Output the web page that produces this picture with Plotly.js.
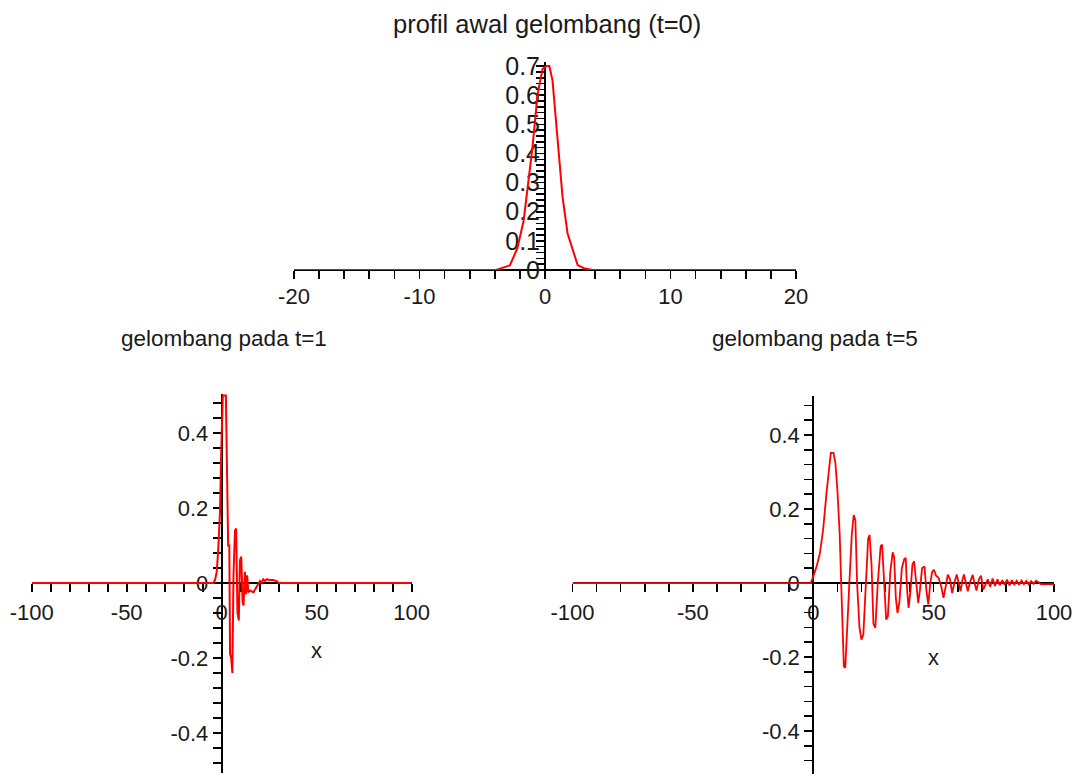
<!DOCTYPE html>
<html>
<head>
<meta charset="utf-8">
<script src="https://cdn.plot.ly/plotly-3.0.1.min.js"></script>
<style>html,body{margin:0;padding:0;background:#fff;}#chart{width:1080px;height:775px;}</style>
</head>
<body>
<div id="chart"></div>
<script>
// ---- data ----
var x0 = [-20, -3.9, -2.8, -2.2, -1.7, -1.0, -0.6, -0.2, 0.1, 0.35, 0.6, 1.0, 1.4, 1.8, 2.2, 2.6, 3.1, 3.8, 20];
var y0 = [0, 0, 0.016, 0.075, 0.17, 0.42, 0.6, 0.69, 0.70, 0.70, 0.65, 0.44, 0.25, 0.125, 0.074, 0.017, 0.006, 0, 0];

var x1 = [-100, -4.4, -3.5, -2.6, -1.8, -0.9, -0.3, 0.2, 0.6, 2.2, 2.6, 3.4, 4.0, 4.4, 5.0, 5.6, 6.2, 7.0, 7.6, 8.3, 9.0, 9.6, 10.3, 11.0, 11.5, 12.2, 12.8, 13.4, 14.0, 15.0, 16.7, 18.4, 19.5, 20.2, 21.0, 21.9, 22.8, 23.7, 25, 27, 29, 29.8, 100];
var y1 = [0, 0, 0.008, 0.03, 0.09, 0.19, 0.34, 0.46, 0.5, 0.5, 0.37, 0.1, 0.1, -0.19, -0.2, -0.24, 0.02, 0.14, 0.145, -0.08, -0.1, 0.06, 0.07, -0.05, -0.06, 0.03, -0.03, 0.02, -0.025, -0.02, -0.025, -0.01, 0.0, 0.005, 0.0, 0.01, 0.005, 0.01, 0.008, 0.008, 0.005, 0, 0];

var x5 = [-100, -1, 0, 1.4, 2.75, 4.1, 5.5, 6.5, 7.3, 8.4, 9.2, 10.1, 11.0, 11.6, 12.2, 12.7, 13.3, 14.0, 15.0, 16.0, 16.8, 17.5, 18.2, 19.2, 20.0, 20.8, 21.8, 22.8, 23.4, 24.2, 25.0, 25.8, 26.8, 28.0, 28.6, 29.4, 30.3, 31.0, 32.0, 33.0, 33.6, 34.3, 35.0, 35.8, 36.8, 37.8, 38.4, 39.0, 39.6, 40.4, 41.2, 41.9, 42.8, 43.6, 44.3, 45.2, 46.2, 47.0, 47.8, 48.6, 49.4, 50.1, 51.0, 52.0, 53.2, 54.1, 55.0, 55.9, 56.8, 57.7, 58.6, 59.6, 60.4, 61.2, 62.0, 62.6, 63.4, 64.2, 65.0, 66.2, 67.0, 67.8, 68.8, 69.7, 70.6, 71.6, 72.5, 73.5, 74.5, 75.5, 76.5, 77.5, 78.5, 79.5, 80.5, 81.5, 82.5, 83.5, 84.5, 85.5, 86.5, 87.5, 88.5, 89.5, 90.5, 91.5, 92.5, 93.5, 94.5, 96, 100];
var y5 = [0, 0, 0.018, 0.045, 0.08, 0.144, 0.243, 0.315, 0.352, 0.352, 0.325, 0.243, 0.13, 0.0, -0.15, -0.225, -0.229, -0.12, 0.0, 0.13, 0.184, 0.17, 0.0, -0.12, -0.153, -0.14, 0.0, 0.12, 0.13, 0.05, -0.11, -0.121, 0.0, 0.1, 0.104, 0.0, -0.099, -0.09, 0.03, 0.083, 0.07, -0.04, -0.081, -0.05, 0.04, 0.065, 0.068, -0.02, -0.067, -0.02, 0.05, 0.059, -0.01, -0.054, -0.02, 0.04, 0.045, -0.02, -0.058, 0.0, 0.03, 0.036, 0.02, 0.015, -0.01, -0.04, -0.01, 0.023, 0.01, -0.027, 0.0, 0.023, 0.0, -0.022, 0.01, 0.023, 0.0, -0.022, 0.0, 0.022, 0.0, -0.02, 0.01, 0.02, -0.018, -0.005, 0.01, -0.01, 0.012, -0.008, 0.01, -0.006, 0.008, -0.005, 0.009, -0.006, 0.008, -0.004, 0.006, -0.005, 0.007, -0.003, 0.006, -0.004, 0.005, -0.002, 0.006, 0.003, -0.003, -0.003, -0.003];

var topXTicks = [-20, -10, 0, 10, 20];
var topXText = ['-20', '-10', '0', '10', '20'];
var topYTicks = [0, 0.1, 0.2, 0.3, 0.4, 0.5, 0.6, 0.7];
var topYText = ['0', '0.1', '0.2', '0.3', '0.4', '0.5', '0.6', '0.7'];
var botXTicks = [-100, -50, 0, 50, 100];
var botXText = ['-100', '-50', '0', '50', '100'];
var botYTicks = [-0.4, -0.2, 0, 0.2, 0.4];
var botYText = ['-0.4', '-0.2', '0', '0.2', '0.4'];

var titles = ['profil awal gelombang (t=0)', 'gelombang pada t=1', 'gelombang pada t=5'];

// ---- layout helpers ----
var W = 1080, H = 775;
function px(v) { return v / W; }
function py(v) { return 1 - v / H; }
var FONT = '"Liberation Sans", Arial, sans-serif';
var TXT = '#1a1a1a';

function xAxis(dom, rng, tv, tt, minorStep, yDom, yRng, standoff) {
  var pos = yDom[0] + (0 - yRng[0]) / (yRng[1] - yRng[0]) * (yDom[1] - yDom[0]);
  return {
    domain: dom, range: rng, anchor: 'free', position: pos,
    showgrid: false, zeroline: false, showline: true, linecolor: '#000', linewidth: 2,
    ticks: 'outside', ticklen: 8, tickwidth: 1.6, tickcolor: '#000',
    tickmode: 'array', tickvals: tv, ticktext: tt,
    minor: { tickmode: 'linear', tick0: 0, dtick: minorStep, ticks: 'outside', ticklen: 8, tickwidth: 1.6, tickcolor: '#000', showgrid: false },
    tickfont: { family: FONT, size: 22, color: TXT },
    ticklabelstandoff: standoff, layer: 'below traces', fixedrange: true
  };
}
function yAxis(dom, rng, tv, tt, minorStep, xDom, xRng, standoff, fsize) {
  var pos = xDom[0] + (0 - xRng[0]) / (xRng[1] - xRng[0]) * (xDom[1] - xDom[0]);
  return {
    domain: dom, range: rng, anchor: 'free', position: pos,
    showgrid: false, zeroline: false, showline: true, linecolor: '#000', linewidth: 2,
    ticks: 'outside', ticklen: 8, tickwidth: 1.6, tickcolor: '#000',
    tickmode: 'array', tickvals: tv, ticktext: tt,
    minor: { tickmode: 'linear', tick0: 0, dtick: minorStep, ticks: 'outside', ticklen: 8, tickwidth: 1.6, tickcolor: '#000', showgrid: false },
    tickfont: { family: FONT, size: fsize, color: TXT },
    ticklabelstandoff: standoff, layer: 'below traces', fixedrange: true
  };
}

var d1x = [px(294), px(796)], d1y = [py(270), py(62)], r1x = [-20, 20], r1y = [0, 0.714];
var d2x = [px(31.7), px(411.7)], d2y = [py(773), py(393.6)], r2x = [-100, 100], r2y = [-0.507, 0.505];
var d3x = [px(572.5), px(1054)], d3y = [py(773.6), py(396.2)], r3x = [-100, 100], r3y = [-0.515, 0.505];

var traces = [
  { x: x0, y: y0, xaxis: 'x', yaxis: 'y', mode: 'lines', line: { color: '#ff0000', width: 2 }, hoverinfo: 'skip' },
  { x: x1, y: y1, xaxis: 'x2', yaxis: 'y2', mode: 'lines', line: { color: '#ff0000', width: 2 }, hoverinfo: 'skip' },
  { x: x5, y: y5, xaxis: 'x3', yaxis: 'y3', mode: 'lines', line: { color: '#ff0000', width: 1.8 }, hoverinfo: 'skip' }
];

var layout = {
  width: W, height: H, margin: { l: 0, r: 0, t: 0, b: 0 },
  paper_bgcolor: '#fff', plot_bgcolor: 'rgba(0,0,0,0)', showlegend: false,
  xaxis: xAxis(d1x, r1x, topXTicks, topXText, 2, d1y, r1y, -1),
  yaxis: yAxis(d1y, r1y, topYTicks, topYText, 0.02, d1x, r1x, -9, 25),
  xaxis2: xAxis(d2x, r2x, botXTicks, botXText, 10, d2y, r2y, 2),
  yaxis2: yAxis(d2y, r2y, botYTicks, botYText, 0.04, d2x, r2x, 0, 22),
  xaxis3: xAxis(d3x, r3x, botXTicks, botXText, 10, d3y, r3y, 2),
  yaxis3: yAxis(d3y, r3y, botYTicks, botYText, 0.04, d3x, r3x, 0, 22),
  annotations: [
    { text: titles[0], xref: 'paper', yref: 'paper', x: px(547), y: py(24), xanchor: 'center', yanchor: 'middle', showarrow: false, font: { family: FONT, size: 25.5, color: TXT } },
    { text: titles[1], xref: 'paper', yref: 'paper', x: px(224), y: py(338), xanchor: 'center', yanchor: 'middle', showarrow: false, font: { family: FONT, size: 22.5, color: TXT } },
    { text: titles[2], xref: 'paper', yref: 'paper', x: px(815), y: py(338), xanchor: 'center', yanchor: 'middle', showarrow: false, font: { family: FONT, size: 22.5, color: TXT } },
    { text: 'x', xref: 'x2', yref: 'y2', x: 50, y: -0.18, xanchor: 'center', yanchor: 'middle', showarrow: false, font: { family: FONT, size: 22, color: TXT } },
    { text: 'x', xref: 'x3', yref: 'y3', x: 50, y: -0.2, xanchor: 'center', yanchor: 'middle', showarrow: false, font: { family: FONT, size: 22, color: TXT } }
  ]
};

Plotly.newPlot('chart', traces, layout, { displayModeBar: false, staticPlot: true });
</script>
</body>
</html>
